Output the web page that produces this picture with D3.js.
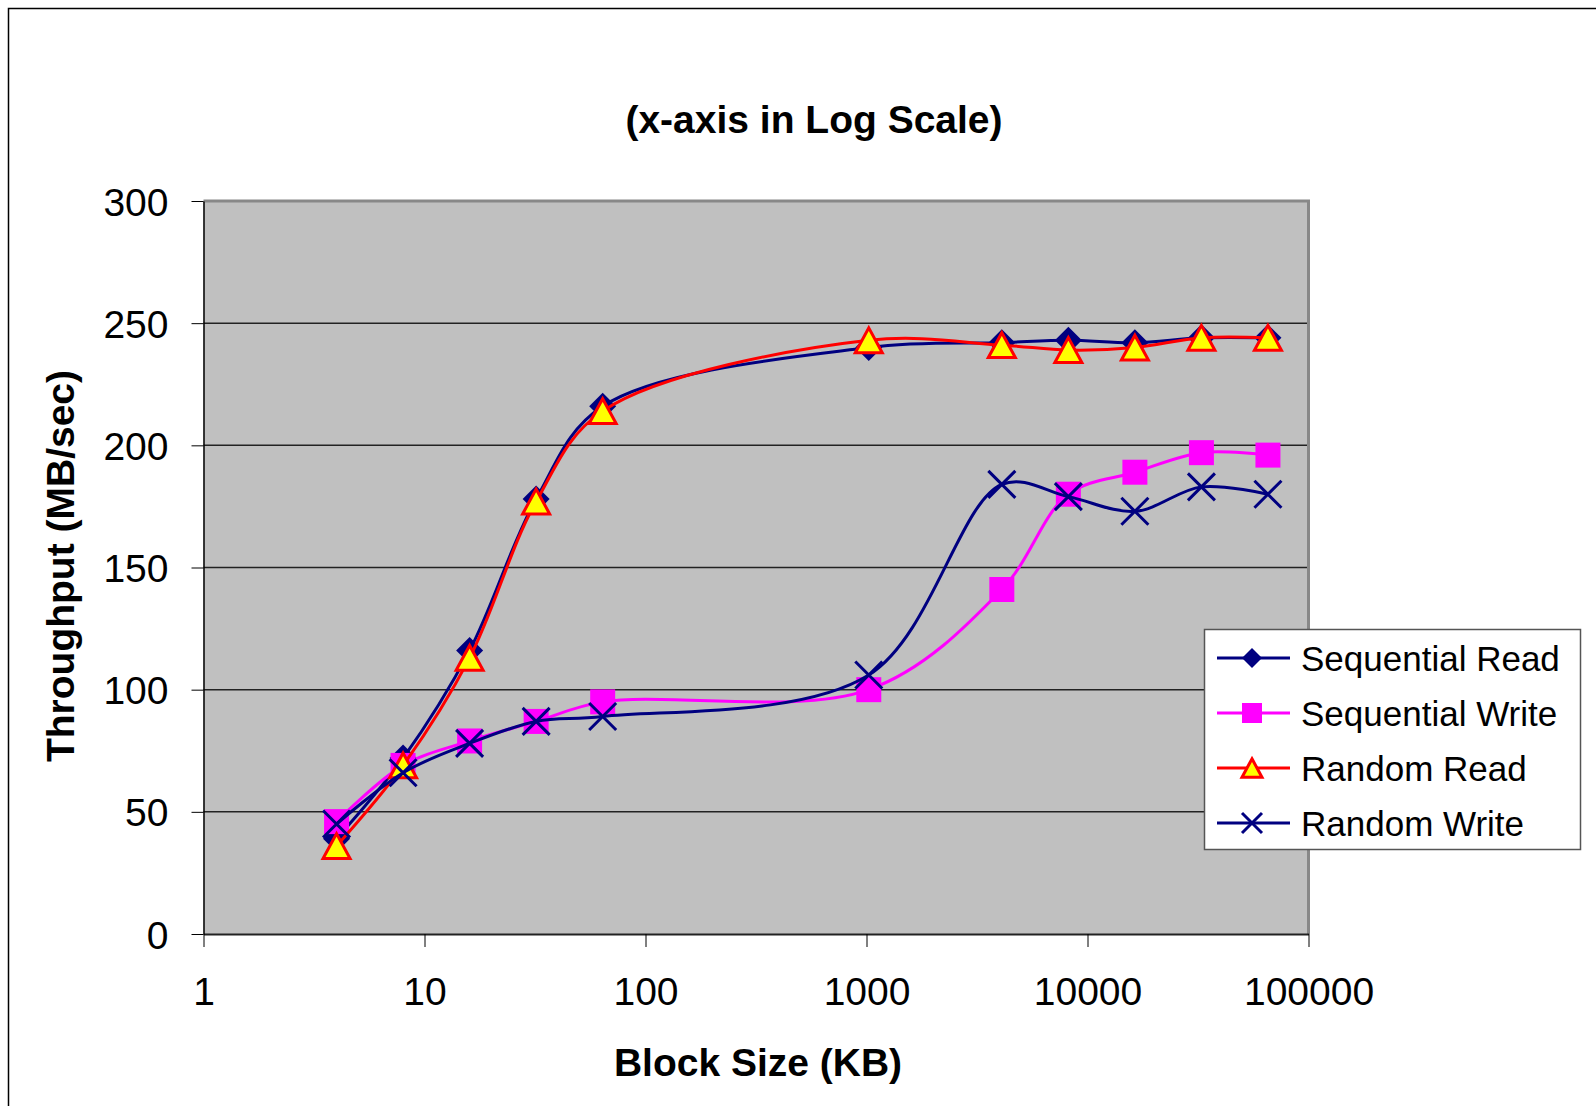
<!DOCTYPE html>
<html>
<head>
<meta charset="utf-8">
<script src="https://cdn.jsdelivr.net/npm/d3@7"></script>
<style>
  body { margin: 0; background: #fff; }
  svg { display: block; font-family: Arial, "Liberation Sans", sans-serif; }
</style>
</head>
<body>
<svg width="1596" height="1106"></svg>
<script>
// block sizes in KB
const blockSizes = [4, 8, 16, 32, 64, 1024, 4096, 8192, 16384, 32768, 65536];

const seqRead   = [39, 72, 116, 178, 216, 240, 242, 243, 242, 244, 244];
const seqWrite  = [46, 69, 79, 87, 95, 100, 141, 180, 189, 197, 196];
const randRead  = [36, 69, 113, 177, 214, 243, 241, 239, 240, 244, 244];
const randWrite = [45, 66, 78, 87, 89, 106, 184, 179, 173, 183, 180];

const seriesNames = ['Sequential Read', 'Sequential Write', 'Random Read', 'Random Write'];

const xTicks = [1, 10, 100, 1000, 10000, 100000];
const yTicks = [0, 50, 100, 150, 200, 250, 300];

const series = [
    {name: seriesNames[0], values: seqRead,   color: '#000080', marker: 'diamond'},
    {name: seriesNames[1], values: seqWrite,  color: '#FF00FF', marker: 'square'},
    {name: seriesNames[2], values: randRead,  color: '#FF0000', marker: 'triangle'},
    {name: seriesNames[3], values: randWrite, color: '#000080', marker: 'cross'}
];

const svg = d3.select('svg');
const plotLeft = 203.5, plotRight = 1308.5, plotTop = 201, plotBottom = 934;

// outer chart frame (only top/left edge is visible in the picture)
svg.append('rect')
    .attr('x', 8.5).attr('y', 8.5)
    .attr('width', 1700).attr('height', 1300)
    .attr('fill', 'none')
    .attr('stroke', '#000')
    .attr('stroke-width', 1.5);

let xScale = d3.scaleLog()
                .domain([1, 100000])
                .range([plotLeft, plotRight]);

let yScale = d3.scaleLinear()
                .domain([0, 300])
                .range([plotBottom, plotTop]);

// plot area
svg.append('rect')
    .attr('x', plotLeft).attr('y', plotTop)
    .attr('width', plotRight - plotLeft).attr('height', plotBottom - plotTop)
    .attr('fill', '#C0C0C0');

// gridlines
svg.append('g')
    .selectAll('line')
    .data(yTicks.filter(d => d > 0 && d < 300))
    .enter()
        .append('line')
        .attr('x1', plotLeft).attr('x2', plotRight)
        .attr('y1', d => yScale(d)).attr('y2', d => yScale(d))
        .attr('stroke', '#222')
        .attr('stroke-width', 1.5);

// plot frame: grey top/right, black axes
svg.append('path')
    .attr('d', `M${plotLeft},${plotTop}H${plotRight}V${plotBottom}`)
    .attr('fill', 'none')
    .attr('stroke', '#888')
    .attr('stroke-width', 3);

//Axes
let xAxis = d3.axisBottom(xScale)
                .tickValues(xTicks)
                .tickFormat(d3.format('d'))
                .tickSize(13)
                .tickPadding(30)
                .tickSizeOuter(0);
let xg = svg.append('g')
    .attr('transform', `translate(0, ${plotBottom})`)
    .call(xAxis);
xg.select('.domain').attr('stroke', '#222').attr('stroke-width', 2);
xg.selectAll('.tick line').attr('stroke', '#000').attr('stroke-width', 1);
xg.selectAll('text')
    .attr('font-size', 39)
    .attr('fill', '#000')
    .attr('font-family', 'Arial, "Liberation Sans", sans-serif');

let yAxis = d3.axisLeft(yScale)
                .tickValues(yTicks)
                .tickSize(12)
                .tickPadding(23)
                .tickSizeOuter(0);
let yg = svg.append('g')
    .attr('transform', `translate(${plotLeft}, 0)`)
    .call(yAxis);
yg.select('.domain').attr('stroke', '#000').attr('stroke-width', 1.5);
yg.selectAll('.tick line').attr('stroke', '#000').attr('stroke-width', 1);
yg.selectAll('text')
    .attr('font-size', 39)
    .attr('fill', '#000')
    .attr('dy', '0.36em')
    .attr('font-family', 'Arial, "Liberation Sans", sans-serif');

// titles
svg.append('text')
    .text('(x-axis in Log Scale)')
    .attr('x', 814).attr('y', 133)
    .attr('text-anchor', 'middle')
    .attr('font-size', 39)
    .attr('font-weight', 'bold');

svg.append('text')
    .text('Block Size (KB)')
    .attr('x', 758).attr('y', 1076)
    .attr('text-anchor', 'middle')
    .attr('font-size', 39)
    .attr('font-weight', 'bold');

svg.append('text')
    .text('Throughput (MB/sec)')
    .attr('transform', 'translate(74, 566) rotate(-90)')
    .attr('text-anchor', 'middle')
    .attr('font-size', 39)
    .attr('font-weight', 'bold');

// marker shapes, s = full width
function markerPath(type, s) {
    let h = s / 2;
    if (type === 'diamond') return `M0,${-h}L${h},0L0,${h}L${-h},0Z`;
    if (type === 'square') return `M${-h},${-h}H${h}V${h}H${-h}Z`;
    if (type === 'triangle') {
        let th = s * 0.92;
        return `M0,${-th / 2}L${h},${th / 2}L${-h},${th / 2}Z`;
    }
    // cross
    return `M${-h},${-h}L${h},${h}M${h},${-h}L${-h},${h}`;
}

function styleMarker(sel, s) {
    sel.attr('d', d => markerPath(d.marker, s))
        .attr('fill', d => d.marker === 'triangle' ? '#FFFF00' : (d.marker === 'cross' ? 'none' : d.color))
        .attr('stroke', d => d.color)
        .attr('stroke-width', d => d.marker === 'triangle' ? 3 : (d.marker === 'cross' ? 3 : 0));
}

let line = d3.line()
    .x(d => xScale(d.x))
    .y(d => yScale(d.y))
    .curve(d3.curveCatmullRom.alpha(0.5));

series.forEach(s => {
    let pts = blockSizes.map((x, i) => ({x: x, y: s.values[i], marker: s.marker, color: s.color}));
    let g = svg.append('g');
    g.append('path')
        .datum(pts)
        .attr('d', line)
        .attr('fill', 'none')
        .attr('stroke', s.color)
        .attr('stroke-width', 3);
    g.selectAll('path.mk')
        .data(pts)
        .enter()
            .append('path')
            .classed('mk', true)
            .attr('transform', d => `translate(${xScale(d.x)},${yScale(d.y)})`)
            .call(styleMarker, s.marker === 'square' ? 25 : 27);
});

// legend
let legend = svg.append('g');
legend.append('rect')
    .attr('x', 1204.5).attr('y', 629.5)
    .attr('width', 376).attr('height', 220)
    .attr('fill', '#fff')
    .attr('stroke', '#555')
    .attr('stroke-width', 1.5);

let items = legend.selectAll('g.item')
    .data(series)
    .enter()
        .append('g')
        .classed('item', true)
        .attr('transform', (d, i) => `translate(0, ${658 + i * 55})`);

items.append('line')
    .attr('x1', 1217).attr('x2', 1290)
    .attr('stroke', d => d.color)
    .attr('stroke-width', 3);

items.append('path')
    .attr('transform', 'translate(1252, 0)')
    .call(styleMarker, 20);

items.append('text')
    .text(d => d.name)
    .attr('x', 1301)
    .attr('dy', '0.36em')
    .attr('font-size', 35);
</script>
</body>
</html>
